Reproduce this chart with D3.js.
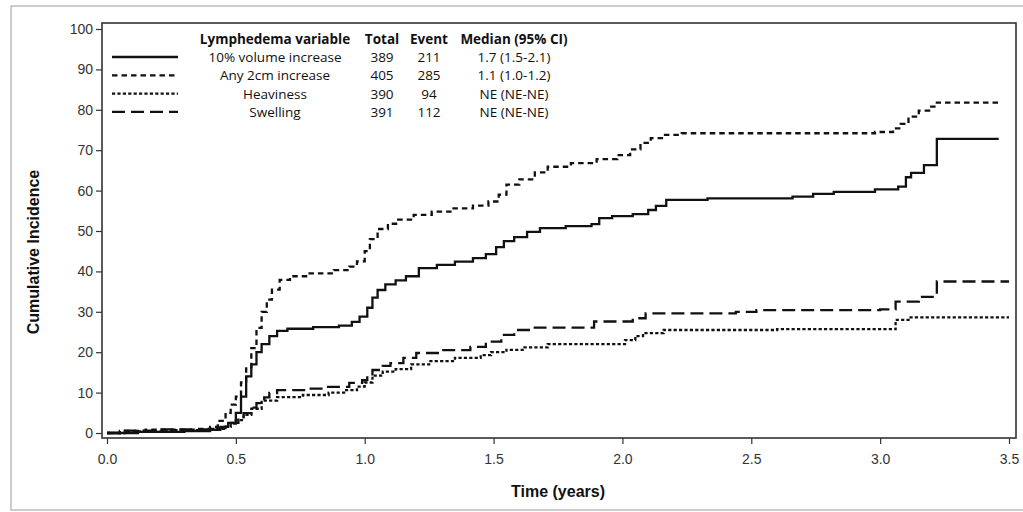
<!DOCTYPE html>
<html>
<head>
<meta charset="utf-8">
<script src="https://cdn.jsdelivr.net/npm/d3@7"></script>
<style>
  body { margin: 0; background: #fff; }
  svg { display: block; }
</style>
</head>
<body>
<svg id="chart" width="1023" height="512"></svg>
<script>
// legend table
const seriesNames = ["10% volume increase", "Any 2cm increase", "Heaviness", "Swelling"];
const totals = [389, 405, 390, 391];
const events = [211, 285, 94, 112];
const medians = ["1.7 (1.5-2.1)", "1.1 (1.0-1.2)", "NE (NE-NE)", "NE (NE-NE)"];

// cumulative incidence step curves (time in years, %)
const volumeTimes = [0, 0.12, 0.30, 0.40, 0.44, 0.47, 0.50, 0.52, 0.54, 0.56, 0.58, 0.60, 0.63, 0.66, 0.70, 0.80, 0.90, 0.95, 0.98, 1.01, 1.03, 1.05, 1.08, 1.12, 1.16, 1.21, 1.28, 1.35, 1.42, 1.47, 1.51, 1.54, 1.58, 1.63, 1.68, 1.78, 1.88, 1.91, 1.96, 2.04, 2.10, 2.13, 2.17, 2.33, 2.66, 2.74, 2.82, 2.98, 3.07, 3.10, 3.12, 3.17, 3.22, 3.46];
const volumeValues = [0, 0.3, 0.5, 0.8, 1.5, 2.5, 5, 9, 14, 17, 20, 22, 24, 25.3, 25.8, 26.2, 26.6, 27.5, 28.8, 31, 33.5, 35.4, 36.8, 37.8, 38.8, 40.8, 41.6, 42.4, 43.3, 44.3, 46, 47.5, 48.5, 49.8, 50.7, 51.2, 51.7, 53.2, 53.7, 54.2, 55.2, 56.2, 57.7, 58.1, 58.5, 59.2, 59.7, 60.3, 61, 63.3, 64.4, 66.3, 72.8, 72.8];

const anyTimes = [0, 0.05, 0.15, 0.35, 0.40, 0.43, 0.46, 0.48, 0.50, 0.52, 0.54, 0.56, 0.58, 0.60, 0.62, 0.64, 0.67, 0.71, 0.78, 0.88, 0.94, 0.97, 1.00, 1.02, 1.05, 1.09, 1.13, 1.19, 1.26, 1.34, 1.42, 1.48, 1.52, 1.55, 1.60, 1.66, 1.71, 1.80, 1.90, 1.98, 2.03, 2.07, 2.11, 2.16, 2.23, 2.98, 3.05, 3.08, 3.11, 3.15, 3.19, 3.22, 3.46];
const anyValues = [0, 0.5, 0.8, 1, 1.5, 3, 5, 7, 9, 12.5, 16, 21, 26, 30, 33, 35.5, 37.9, 38.8, 39.5, 40.3, 41.2, 42.5, 45, 48, 50.5, 51.8, 52.8, 54, 54.8, 55.6, 56.3, 57.3, 59, 61.5, 62.8, 64.5, 65.9, 66.8, 67.8, 68.8, 70.2, 71.8, 73, 73.8, 74.2, 74.5, 75.4, 76.5, 78.3, 79.8, 80.8, 81.8, 81.8];

const heavyTimes = [0, 0.08, 0.25, 0.40, 0.46, 0.48, 0.50, 0.53, 0.56, 0.60, 0.66, 0.76, 0.86, 0.92, 0.97, 1.00, 1.03, 1.07, 1.12, 1.18, 1.25, 1.35, 1.45, 1.49, 1.55, 1.62, 1.71, 2.01, 2.05, 2.08, 2.16, 2.60, 3.06, 3.11, 3.50];
const heavyValues = [0, 0.4, 0.7, 1, 1.5, 2.3, 3.2, 4.5, 6, 8, 8.9, 9.4, 10, 10.6, 11.5, 12.5, 14.2, 15.2, 15.8, 17, 17.8, 18.6, 19.3, 20, 20.6, 21.2, 22, 23, 24, 24.7, 25.5, 25.7, 28, 28.6, 28.6];

const swellTimes = [0, 0.05, 0.20, 0.40, 0.46, 0.48, 0.51, 0.53, 0.56, 0.58, 0.61, 0.63, 0.66, 0.78, 0.84, 0.94, 0.99, 1.01, 1.03, 1.07, 1.10, 1.15, 1.20, 1.30, 1.41, 1.47, 1.53, 1.58, 1.66, 1.89, 2.04, 2.09, 2.44, 2.52, 3.00, 3.06, 3.15, 3.22, 3.50];
const swellValues = [0, 0.6, 0.9, 1.2, 1.6, 2.5, 3.8, 4.9, 6.3, 7.4, 8.8, 9.9, 10.6, 11, 11.4, 12.4, 13.1, 14.2, 15.6, 16.6, 17.3, 18.6, 19.8, 20.5, 21.3, 22.6, 24.3, 25.5, 26.1, 27.6, 28.4, 29.6, 30, 30.4, 30.6, 32.5, 33.7, 37.5, 37.5];

const xTicks = [0, 0.5, 1.0, 1.5, 2.0, 2.5, 3.0, 3.5];
const yTicks = [0, 10, 20, 30, 40, 50, 60, 70, 80, 90, 100];

const series = [
  { times: volumeTimes, values: volumeValues, dash: null },
  { times: anyTimes, values: anyValues, dash: "5.5,4" },
  { times: heavyTimes, values: heavyValues, dash: "3.2,2.2" },
  { times: swellTimes, values: swellValues, dash: "13,6" }
];

const frame = { left: 102, right: 1016, top: 23, bottom: 438 };
const tickFont = "'Liberation Sans', Arial, sans-serif";
const legendFont = "'Open Sans', 'DejaVu Sans', sans-serif";

const svg = d3.select("#chart");

// outer border of the figure
svg.append("rect")
  .attr("x", 11).attr("y", 6)
  .attr("width", 1040).attr("height", 504)
  .attr("fill", "none")
  .attr("stroke", "#999")
  .attr("stroke-width", 1);

const x = d3.scaleLinear().domain([0, 3.5]).range([107, 1009]);
const y = d3.scaleLinear().domain([0, 100]).range([433, 29]);

// axes
const yAxis = svg.append("g")
  .attr("transform", `translate(${frame.left},0)`)
  .call(d3.axisLeft(y).tickValues(yTicks).tickFormat(d3.format("d")).tickSize(6).tickPadding(3));

const xAxis = svg.append("g")
  .attr("transform", `translate(0,${frame.bottom})`)
  .call(d3.axisBottom(x).tickValues(xTicks).tickFormat(d3.format(".1f")).tickSize(6).tickPadding(10));

[xAxis, yAxis].forEach(ax => {
  ax.select(".domain").remove();
  ax.selectAll(".tick line").attr("stroke", "#333").attr("stroke-width", 1.2);
  ax.selectAll(".tick text")
    .attr("fill", "#333")
    .style("font-family", tickFont)
    .style("font-size", "14px");
});

// plot frame
svg.append("rect")
  .attr("x", frame.left).attr("y", frame.top)
  .attr("width", frame.right - frame.left)
  .attr("height", frame.bottom - frame.top)
  .attr("fill", "none")
  .attr("stroke", "#333")
  .attr("stroke-width", 1.6);

// curves
const line = d3.line()
  .x(d => x(d[0]))
  .y(d => y(d[1]))
  .curve(d3.curveStepAfter);

svg.append("g")
  .selectAll("path")
  .data(series)
  .join("path")
  .attr("d", s => line(s.times.map((t, i) => [t, s.values[i]])))
  .attr("fill", "none")
  .attr("stroke", "#111")
  .attr("stroke-width", 2.3)
  .attr("stroke-dasharray", s => s.dash);

// axis titles
svg.append("text")
  .attr("x", 558).attr("y", 497)
  .attr("text-anchor", "middle")
  .style("font-family", tickFont)
  .style("font-size", "16px")
  .style("font-weight", "bold")
  .attr("fill", "#111")
  .text("Time (years)");

svg.append("text")
  .attr("transform", "translate(39,252) rotate(-90)")
  .attr("text-anchor", "middle")
  .style("font-family", tickFont)
  .style("font-size", "16px")
  .style("font-weight", "bold")
  .attr("fill", "#111")
  .text("Cumulative Incidence");

// legend table
const legend = svg.append("g")
  .style("font-family", legendFont)
  .style("font-size", "13.5px")
  .attr("fill", "#111");

const cols = [275, 382, 429, 514];
const headers = ["Lymphedema variable", "Total", "Event", "Median (95% CI)"];
const headerY = 44;
const rowY = i => 62 + i * 18.3;

legend.selectAll("text.head")
  .data(headers)
  .join("text")
  .attr("class", "head")
  .attr("x", (d, i) => cols[i])
  .attr("y", headerY)
  .attr("text-anchor", "middle")
  .style("font-weight", "bold")
  .text(d => d);

seriesNames.forEach((name, i) => {
  const cells = [name, totals[i], events[i], medians[i]];
  legend.selectAll(`text.row${i}`)
    .data(cells)
    .join("text")
    .attr("class", `row${i}`)
    .attr("x", (d, j) => cols[j])
    .attr("y", rowY(i))
    .attr("text-anchor", "middle")
    .text(d => d);

  legend.append("line")
    .attr("x1", 112).attr("x2", 178)
    .attr("y1", rowY(i) - 5).attr("y2", rowY(i) - 5)
    .attr("stroke", "#111")
    .attr("stroke-width", 2.3)
    .attr("stroke-dasharray", series[i].dash);
});
</script>
</body>
</html>
